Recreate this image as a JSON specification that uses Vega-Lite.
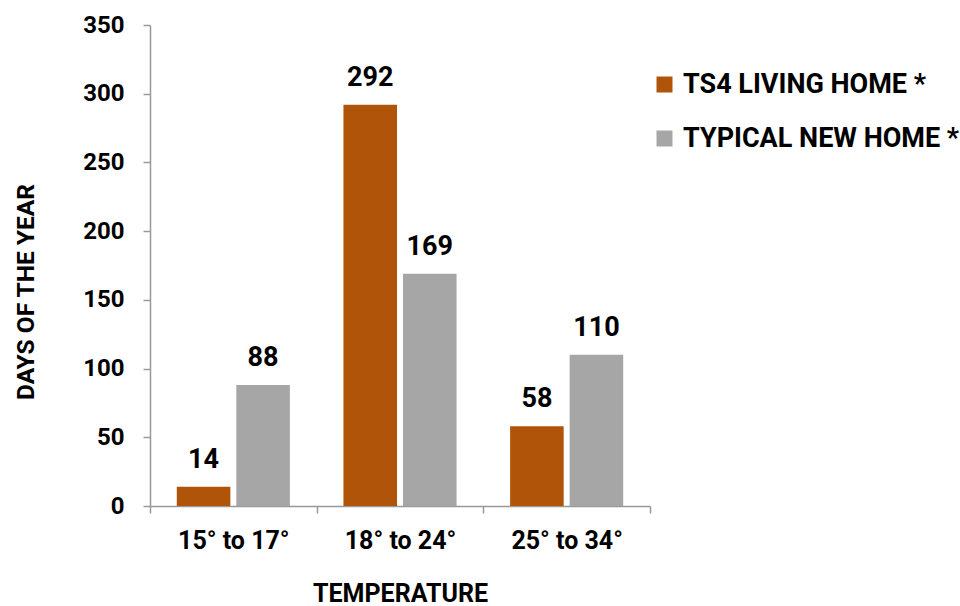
{
  "$schema": "https://vega.github.io/schema/vega-lite/v6.json",
  "autosize": "none",
  "width": 500,
  "height": 481,
  "padding": {"left": 150, "top": 25, "right": 310, "bottom": 100},
  "background": "white",
  "config": {
    "font": "Roboto",
    "view": {"stroke": null},
    "legend": {"padding": 0}
  },
  "data": {
    "values": [
      {"temp": "15° to 17°", "series": "TS4 LIVING HOME *", "days": 14},
      {"temp": "15° to 17°", "series": "TYPICAL NEW HOME *", "days": 88},
      {"temp": "18° to 24°", "series": "TS4 LIVING HOME *", "days": 292},
      {"temp": "18° to 24°", "series": "TYPICAL NEW HOME *", "days": 169},
      {"temp": "25° to 34°", "series": "TS4 LIVING HOME *", "days": 58},
      {"temp": "25° to 34°", "series": "TYPICAL NEW HOME *", "days": 110}
    ]
  },
  "encoding": {
    "x": {
      "field": "temp", "type": "nominal", "sort": ["15° to 17°", "18° to 24°", "25° to 34°"],
      "scale": {"paddingInner": 0, "paddingOuter": 0},
      "axis": {
        "title": "TEMPERATURE", "titleFontSize": 25, "titleFontWeight": "bold", "titleColor": "#000",
        "titleX": 250, "titleY": 95, "titleBaseline": "alphabetic", "titleAlign": "center",
        "labelAngle": 0, "labelFontSize": 25, "labelFontWeight": "bold", "labelColor": "#000", "labelPadding": 15,
        "tickBand": "extent", "tickSize": 7, "tickColor": "#999", "domainColor": "#999", "domainWidth": 1.5, "tickWidth": 1.5
      }
    },
    "xOffset": {"field": "series", "type": "nominal", "scale": {"paddingInner": 0.1, "paddingOuter": 0.45}},
    "y": {
      "field": "days", "type": "quantitative",
      "scale": {"domain": [0, 350]},
      "axis": {
        "values": [0, 50, 100, 150, 200, 250, 300, 350], "grid": false,
        "title": "DAYS OF THE YEAR", "titleFontSize": 24.5, "titleFontWeight": "bold", "titleColor": "#000",
        "titleX": -117, "titleY": 266.5, "titleBaseline": "alphabetic", "titleAlign": "center", "titleAngle": -90,
        "labelFontSize": 24, "labelFontWeight": "bold", "labelColor": "#000", "labelPadding": 19,
        "tickSize": 7, "tickColor": "#999", "domainColor": "#999", "domainWidth": 1.5, "tickWidth": 1.5
      }
    }
  },
  "layer": [
    {
      "mark": {"type": "bar"},
      "encoding": {
        "color": {
          "field": "series", "type": "nominal",
          "scale": {"domain": ["TS4 LIVING HOME *", "TYPICAL NEW HOME *"], "range": ["#B0540A", "#A6A6A6"]},
          "legend": {
            "title": null, "orient": "none", "legendX": 501, "legendY": 46,
            "symbolType": "square", "symbolSize": 256, "symbolStrokeWidth": 0, "symbolOpacity": 1,
            "labelFontSize": 27, "labelFontWeight": "bold", "labelColor": "#000", "labelOffset": 5,
            "rowPadding": 26, "labelLimit": 400
          }
        }
      }
    },
    {
      "mark": {"type": "text", "baseline": "alphabetic", "dy": -19, "fontSize": 27, "fontWeight": "bold", "color": "#000"},
      "encoding": {"text": {"field": "days", "type": "quantitative"}}
    }
  ]
}
